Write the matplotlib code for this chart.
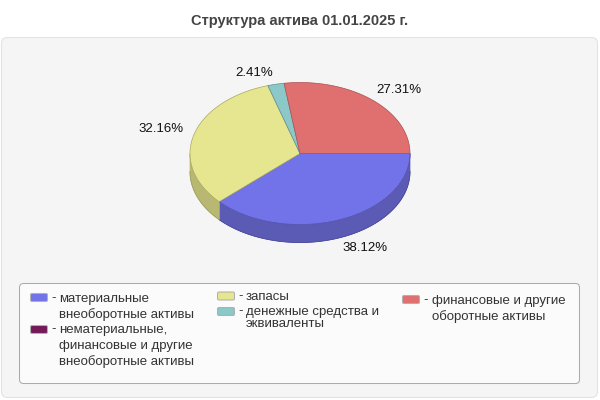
#!/usr/bin/env python3
"""Pseudo-3D pie of asset structure, drawn on a pixel-sized axes"""
import numpy as np
import matplotlib
matplotlib.use("Agg")
import matplotlib.pyplot as plt
from matplotlib.patches import FancyBboxPatch, Polygon

plt.rcParams['font.family'] = ['Liberation Sans', 'DejaVu Sans']

title = "Структура актива 01.01.2025 г."
categories = [
    "материальные внеоборотные активы",
    "нематериальные, финансовые и другие внеоборотные активы",
    "запасы",
    "денежные средства и эквиваленты",
    "финансовые и другие оборотные активы",
]
values = [38.12, 0.0, 32.16, 2.41, 27.31]
value_labels = ["38.12%", "", "32.16%", "2.41%", "27.31%"]
top_colors = ["#7373E9", "#741B57", "#E6E690", "#8CC8C8", "#E07070"]
side_colors = ["#5B5BB5", "#5A1544", "#B8B873", "#6D9C9C", "#AE5757"]
edge_colors = ["#5050A8", "#5A1544", "#A8A860", "#5F9090", "#A85050"]

# centre, radii and depth of the pie in pixels
CX, CY, RX, RY, DEPTH = 300, 153.5, 110, 71, 18

# label centres, legend positions in pixels
label_pos = [(365, 248), None, (161, 128.5), (254, 73), (399, 90)]
legend_swatches = [(30.5, 297.5), (30.5, 329.5), (217.5, 296), (217.5, 311.5), (402.5, 299.5)]
legend_dashes = [(51.5, 298), (51.5, 329.5), (238.5, 296), (238.5, 311), (423.5, 300)]
legend_lines = [
    [(59, 299, "материальные"), (59, 315, "внеоборотные активы")],
    [(59, 330, "нематериальные,"), (59, 346, "финансовые и другие"), (59, 361.5, "внеоборотные активы")],
    [(246, 296.5, "запасы")],
    [(246, 311.5, "денежные средства и"), (246, 324, "эквиваленты")],
    [(432, 301, "финансовые и другие"), (432, 317, "оборотные активы")],
]


def ellipse_xy(deg, dy=0):
    rad = np.radians(deg)
    return CX + RX * np.cos(rad), CY + dy - RY * np.sin(rad)


fig = plt.figure(figsize=(6, 4), dpi=100)
ax = fig.add_axes([0, 0, 1, 1])
ax.set_xlim(0, 600)
ax.set_ylim(400, 0)
ax.axis("off")

ax.text(300, 20.5, title, ha="center", va="center", fontsize=10.5, fontweight="bold", color="#444444")

# outer panel and legend frame
ax.add_patch(FancyBboxPatch((1.5, 37.5), 596, 360, boxstyle="round,pad=0,rounding_size=6",
                            fc="#F5F5F5", ec="#E2E2E2", lw=0.75))
ax.add_patch(FancyBboxPatch((19.5, 283.5), 560, 100, boxstyle="round,pad=0,rounding_size=4",
                            fc="#FBFBFB", ec="#ABABAB", lw=0.75))

# angles run clockwise from 3 o'clock
ends = -np.cumsum(values) * 3.6
starts = np.concatenate(([0.0], ends[:-1]))

# side walls first, only the part of each slice facing the viewer
for a0, a1, col in zip(starts, ends, side_colors):
    lo, hi = max(a1, -180), min(a0, 0)
    if hi <= lo:
        continue
    t = np.linspace(hi, lo, 80)
    x, y = ellipse_xy(t)
    xb, yb = ellipse_xy(t[::-1], DEPTH)
    ax.add_patch(Polygon(np.r_[np.c_[x, y], np.c_[xb, yb]], closed=True, fc=col,
                         ec=col, lw=0.5, zorder=2))
    ax.plot(xb, yb, color="#4A4A98" if col == side_colors[0] else "#A0A060", lw=0.6, zorder=3)

# top faces
for a0, a1, col, ec in zip(starts, ends, top_colors, edge_colors):
    if a0 == a1:
        continue
    t = np.linspace(a0, a1, 100)
    x, y = ellipse_xy(t)
    pts = np.r_[[[CX, CY]], np.c_[x, y]]
    ax.add_patch(Polygon(pts, closed=True, fc=col, ec=ec, lw=0.5, zorder=4))

for pos, lab in zip(label_pos, value_labels):
    if pos is not None:
        ax.text(pos[0], pos[1], lab, ha="center", va="center", fontsize=9.5, color="#111111", zorder=5)

# legend
for (sx, sy), col in zip(legend_swatches, top_colors):
    ax.add_patch(FancyBboxPatch((sx, sy - 4), 17, 8, boxstyle="round,pad=0,rounding_size=1.5",
                                fc=col, ec="#B0B0B0", lw=0.75))
for dx, dy in legend_dashes:
    ax.text(dx, dy, "-", ha="left", va="center", fontsize=9.5, color="#333333")
for lines in legend_lines:
    for tx, ty, s in lines:
        ax.text(tx, ty, s, ha="left", va="center", fontsize=9.5, color="#333333")

fig.savefig("out.png", dpi=100)
